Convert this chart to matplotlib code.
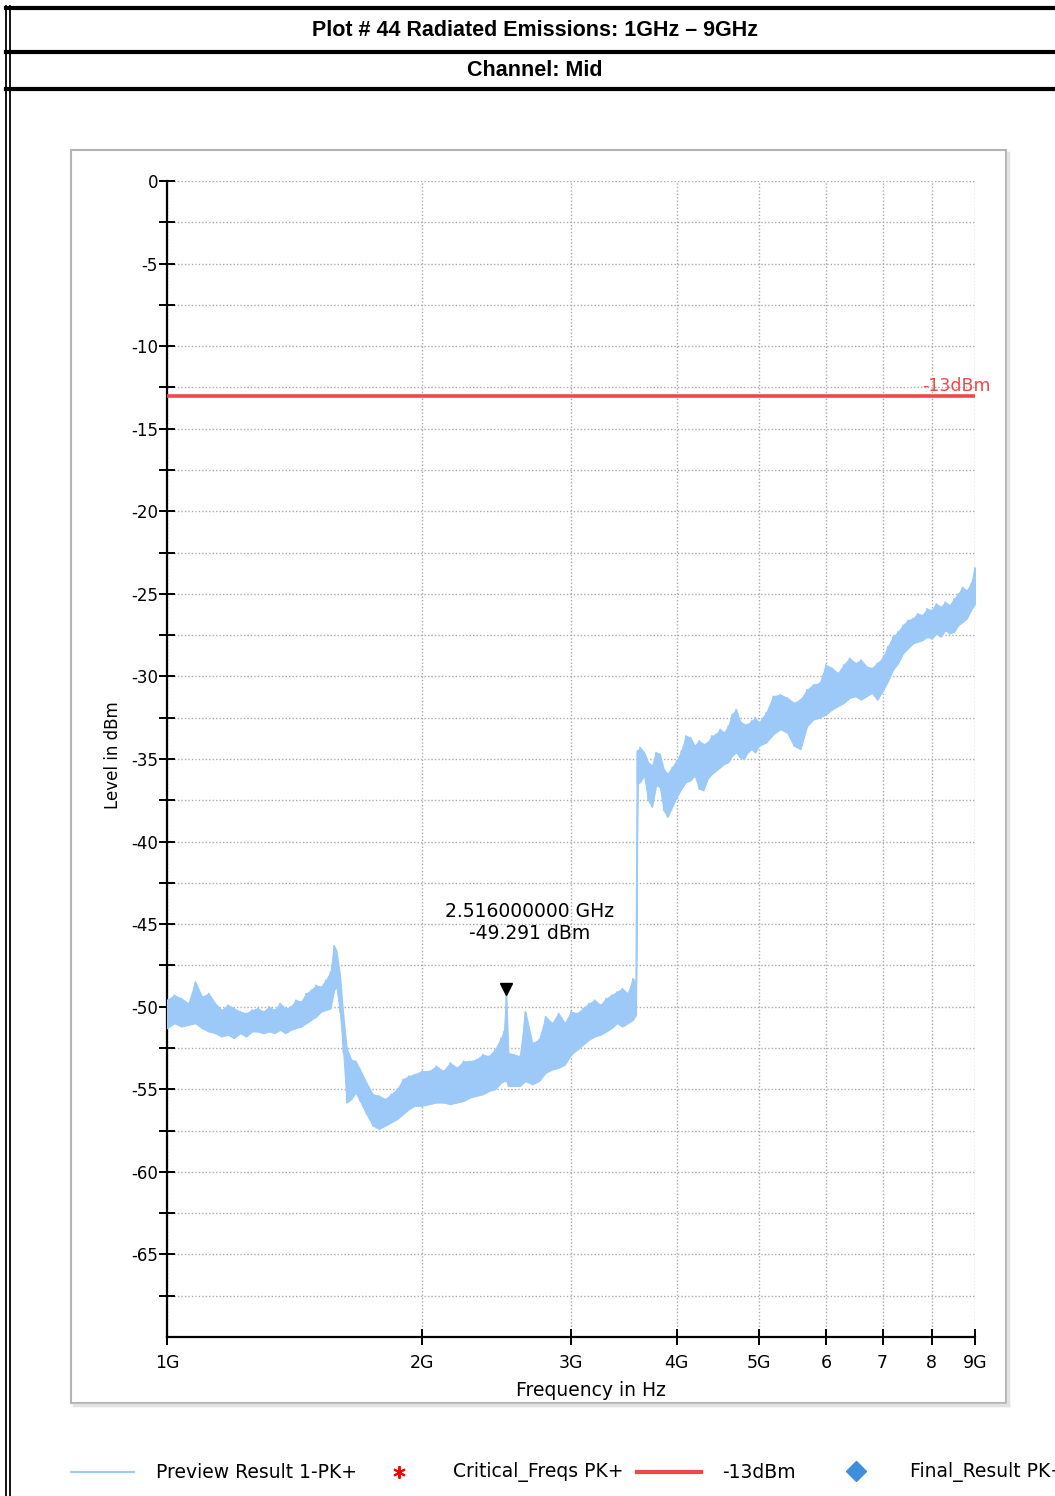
import numpy as np
import matplotlib
matplotlib.use("Agg")
import matplotlib.pyplot as plt
from matplotlib.lines import Line2D
from matplotlib.patches import Rectangle
import matplotlib.transforms as mtransforms

# ---- data -------------------------------------------------------------
# Preview Result 1-PK+ sweep: frequency (GHz) with upper / lower envelope of the peak trace (dBm)
freq_ghz = [
    1.00, 1.02, 1.04, 1.06, 1.08, 1.10, 1.12, 1.14, 1.16, 1.18,
    1.20, 1.22, 1.24, 1.26, 1.28, 1.30, 1.32, 1.34, 1.36, 1.38,
    1.40, 1.42, 1.44, 1.46, 1.48, 1.50, 1.52, 1.54, 1.56, 1.575,
    1.585, 1.60, 1.615, 1.63, 1.65, 1.67, 1.69, 1.72, 1.75, 1.78,
    1.81, 1.84, 1.87, 1.90, 1.93, 1.96, 2.00, 2.04, 2.08, 2.12,
    2.16, 2.20, 2.24, 2.28, 2.32, 2.36, 2.40, 2.44, 2.48, 2.50,
    2.516, 2.53, 2.57, 2.61, 2.65, 2.70, 2.75, 2.80, 2.85, 2.90,
    2.95, 3.00, 3.05, 3.10, 3.15, 3.20, 3.25, 3.30, 3.35, 3.40,
    3.45, 3.50, 3.55, 3.58, 3.595, 3.62, 3.66, 3.70, 3.74, 3.78,
    3.82, 3.86, 3.90, 3.95, 4.00, 4.05, 4.10, 4.15, 4.20, 4.25,
    4.30, 4.35, 4.40, 4.45, 4.50, 4.55, 4.60, 4.65, 4.70, 4.75,
    4.80, 4.85, 4.90, 4.95, 5.00, 5.10, 5.20, 5.30, 5.40, 5.50,
    5.60, 5.70, 5.80, 5.90, 6.00, 6.10, 6.20, 6.30, 6.40, 6.50,
    6.60, 6.70, 6.80, 6.90, 7.00, 7.10, 7.20, 7.30, 7.40, 7.50,
    7.60, 7.70, 7.80, 7.90, 8.00, 8.10, 8.20, 8.30, 8.40, 8.50,
    8.60, 8.70, 8.80, 8.90, 9.00,
]
level_hi = [
    -49.6, -49.3, -49.5, -49.8, -48.5, -49.4, -49.2, -49.8, -50.2, -49.9,
    -50.1, -50.3, -50.4, -50.2, -50.1, -50.3, -50.0, -50.2, -49.8, -50.1,
    -50.0, -49.6, -49.7, -49.2, -49.0, -48.7, -48.8, -48.4, -47.9, -46.3,
    -46.6, -48.0, -50.5, -52.5, -53.2, -53.3, -53.8, -54.6, -55.3, -55.4,
    -55.6, -55.3, -55.0, -54.4, -54.2, -54.1, -53.9, -53.9, -53.6, -53.9,
    -53.4, -53.7, -53.3, -53.3, -53.2, -52.9, -53.0, -52.6, -51.9, -51.5,
    -49.291, -52.8, -52.9, -53.0, -50.3, -52.2, -52.0, -50.6, -51.0, -50.4,
    -51.0, -50.3, -50.4, -50.1, -49.8, -49.6, -49.9, -49.5, -49.3, -49.1,
    -48.9, -49.2, -48.3, -48.5, -34.5, -34.3, -34.6, -35.2, -35.4, -34.6,
    -34.7, -35.6, -35.9, -35.5, -35.1, -34.5, -33.6, -33.7, -34.2, -33.9,
    -34.1, -34.0, -33.6, -33.5, -33.2, -33.4, -33.0, -32.3, -32.0, -32.7,
    -32.9, -32.9, -32.7, -32.5, -32.8, -32.2, -31.2, -31.1, -31.3, -31.6,
    -31.4, -30.8, -30.5, -30.4, -29.3, -29.5, -29.8, -29.3, -28.9, -29.2,
    -29.0, -29.4, -29.5, -29.2, -28.9, -28.2, -27.6, -27.3, -26.9, -26.6,
    -26.5, -26.2, -26.3, -25.9, -26.0, -25.6, -25.8, -25.5, -25.7, -25.3,
    -25.0, -24.6, -24.8, -24.4, -23.4,
]
level_lo = [
    -51.3, -51.0, -51.2, -51.1, -51.0, -51.3, -51.5, -51.6, -51.8, -51.7,
    -51.9, -51.6, -51.8, -51.5, -51.5, -51.6, -51.5, -51.6, -51.4, -51.6,
    -51.4, -51.3, -51.2, -51.0, -50.8, -50.6, -50.3, -50.2, -50.1, -49.0,
    -48.8, -50.3, -52.8, -55.8, -55.6, -55.2, -55.7, -56.5, -57.2, -57.4,
    -57.2, -57.0, -56.8, -56.5, -56.2, -56.0, -56.0, -55.9, -55.8, -55.8,
    -55.9, -55.8, -55.7, -55.5, -55.4, -55.3, -55.1, -55.0, -54.6, -54.5,
    -54.5, -54.8, -54.8, -54.8, -54.5, -54.7, -54.5, -54.0, -53.8, -53.7,
    -53.5, -52.9, -52.6, -52.3, -52.0, -51.8, -51.7, -51.5, -51.3, -51.0,
    -51.2, -51.0, -50.8, -50.5, -36.5, -36.4, -36.0, -37.5, -37.9, -36.6,
    -36.7, -38.1, -38.5, -37.9, -37.3, -36.8, -36.4, -36.3, -36.0, -36.8,
    -36.9, -36.2, -35.9, -35.7, -35.5, -35.3, -35.2, -34.8, -34.6, -34.9,
    -35.0, -34.6, -34.4, -34.6, -34.2, -34.0, -33.5, -33.2, -33.4, -34.2,
    -34.4, -33.0, -32.6, -32.5, -32.3, -32.0, -31.8, -31.6, -31.3, -31.2,
    -31.4, -31.2, -31.0, -31.4, -30.9, -30.3, -29.6, -29.2, -28.6, -28.3,
    -28.0, -27.9, -27.8, -27.6, -27.7, -27.4, -27.6, -27.2, -27.4, -27.3,
    -26.9, -26.7, -26.5, -26.0, -25.6,
]

limit_dbm = -13.0
marker_freq_ghz = 2.516
marker_level_dbm = -49.291

y_major = [0, -5, -10, -15, -20, -25, -30, -35, -40, -45, -50, -55, -60, -65]
x_tick_ghz = [1, 2, 3, 4, 5, 6, 7, 8, 9]
x_tick_labels = ["1G", "2G", "3G", "4G", "5G", "6", "7", "8", "9G"]

# ---- styling ----------------------------------------------------------
W, H = 1055, 1496
trace_color = "#9cc9f8"
limit_color = "#f04848"
grid_color = "#aaaaaa"
sans = ["DejaVu Sans"]
bold_head = ["Liberation Sans Narrow", "Liberation Sans", "DejaVu Sans"]

plt.rcParams["font.family"] = sans
plt.rcParams["axes.unicode_minus"] = False

fig = plt.figure(figsize=(W / 100, H / 100), dpi=100)


def fx(px):
    return px / W


def fy(py):
    return 1 - py / H


# page header rules and titles
for y, lw in [(8, 3.0), (52, 3.0), (89, 3.0)]:
    fig.add_artist(Line2D([fx(6), 1.0], [fy(y), fy(y)], color="black", lw=lw))
for x in (6, 10):
    fig.add_artist(Line2D([fx(x), fx(x)], [fy(6), 0.0], color="black", lw=1.3))
fig.text(fx(535), fy(31), "Plot # 44 Radiated Emissions: 1GHz \u2013 9GHz",
         ha="center", va="center", fontsize=15.5, fontweight="bold",
         family=bold_head)
fig.text(fx(535), fy(71), "Channel: Mid", ha="center", va="center",
         fontsize=15.5, fontweight="bold", family=bold_head)

# chart panel frame with soft shadow
fig.add_artist(Line2D([fx(1008), fx(1008)], [fy(153), fy(1405)], color="#e2e2e2", lw=2.5))
fig.add_artist(Line2D([fx(74), fx(1008)], [fy(1405), fy(1405)], color="#e2e2e2", lw=2.5))
fig.add_artist(Rectangle((fx(71), fy(1403)), fx(1006) - fx(71), fy(150) - fy(1403),
                         transform=fig.transFigure, fill=False,
                         edgecolor="#b4b4b4", lw=1.5))

# ---- axes -------------------------------------------------------------
ax = fig.add_axes([fx(167), fy(1337), fx(975) - fx(167), fy(181) - fy(1337)])
ax.set_xscale("log")
ax.set_xlim(1e9, 9e9)
ax.set_ylim(-70, 0)

f_hz = np.array(freq_ghz) * 1e9
ax.fill_between(f_hz, level_lo, level_hi, color=trace_color, lw=0.8,
                edgecolor=trace_color, zorder=3)
# jagged peak-detector strokes between envelope readings
zig_x = np.repeat(f_hz, 2)
zig_y = np.ravel(np.column_stack([level_hi, level_lo]))
ax.plot(zig_x, zig_y, color=trace_color, lw=1.2, zorder=3)

ax.axhline(limit_dbm, color=limit_color, lw=2.6, zorder=4)
ax.annotate("-13dBm", xy=(9e9, limit_dbm), xytext=(16, 1),
            textcoords="offset pixels", ha="right", va="bottom",
            color=limit_color, fontsize=12.5)

mk_tr = mtransforms.offset_copy(ax.transData, fig=fig, x=0, y=6, units="dots")
ax.plot([marker_freq_ghz * 1e9], [marker_level_dbm], marker="v", color="black",
        ms=8, transform=mk_tr, zorder=5)
ax.annotate(f"{marker_freq_ghz:.9f} GHz\n{marker_level_dbm:.3f} dBm",
            xy=(marker_freq_ghz * 1e9, marker_level_dbm), xytext=(23, 73),
            textcoords="offset pixels", ha="center", va="center",
            fontsize=13.5, linespacing=1.2)

ax.set_xticks([v * 1e9 for v in x_tick_ghz])
ax.set_xticklabels(x_tick_labels)
ax.xaxis.set_minor_locator(matplotlib.ticker.NullLocator())
ax.set_yticks(y_major)
ax.set_yticks([v - 2.5 for v in y_major], minor=True)

ax.tick_params(axis="both", which="both", direction="inout", length=11,
               width=1.4, colors="black")
ax.tick_params(axis="y", which="major", labelsize=12, pad=1)
ax.tick_params(axis="x", which="major", labelsize=12.5, pad=7)

ax.grid(True, which="both", linestyle=(0, (1, 1.5)), color=grid_color, lw=1.0)
ax.set_axisbelow(True)
for side in ("top", "right"):
    ax.spines[side].set_visible(False)
for side in ("left", "bottom"):
    ax.spines[side].set_linewidth(1.6)

ax.text(-(167 - 113) / (975 - 167), 0.5 + (759 - 755) / (1337 - 181), "Level in dBm",
        transform=ax.transAxes, ha="center", va="center", rotation=90, fontsize=12)
ax.text((591 - 167) / (975 - 167), -(1390 - 1337) / (1337 - 181), "Frequency in Hz",
        transform=ax.transAxes, ha="center", va="center", fontsize=13.5)

# ---- legend strip -----------------------------------------------------
ly = fy(1472)
fig.add_artist(Line2D([fx(71), fx(134)], [ly, ly], color=trace_color, lw=1.5))
fig.text(fx(156), ly, "Preview Result 1-PK+", va="center", fontsize=13.5)
fig.add_artist(Line2D([fx(399)], [ly], marker=(6, 2, 0), color="red",
                      markersize=9, mew=1.4, linestyle="none"))
fig.text(fx(453), ly, "Critical_Freqs PK+", va="center", fontsize=13.5)
fig.add_artist(Line2D([fx(637), fx(701)], [ly, ly], color=limit_color, lw=3))
fig.text(fx(722), ly, "-13dBm", va="center", fontsize=13.5)
fig.add_artist(Line2D([fx(856)], [fy(1471)], marker="D", color="#3d8fdc",
                      markersize=10, linestyle="none"))
fig.text(fx(910), ly, "Final_Result PK+", va="center", fontsize=13.5)

fig.savefig("out.png", dpi=100)
